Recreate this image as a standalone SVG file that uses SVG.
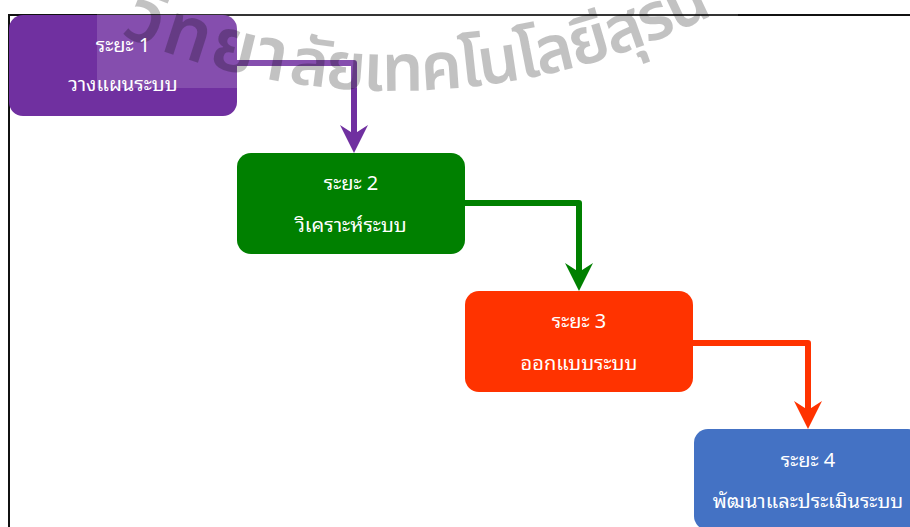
<svg xmlns="http://www.w3.org/2000/svg" width="910" height="527" viewBox="0 0 910 527">
  <style>
    .box { stroke: none; }
    .lbl { font-family: "Noto Sans Thai Looped", "Noto Sans Thai", "Noto Sans", "DejaVu Sans", sans-serif; font-size: 20px; fill: #ffffff; text-anchor: middle; }
    .wire { fill: none; stroke-width: 6; stroke-linejoin: round; }
    .frame { stroke: #111111; stroke-width: 2; fill: none; }
    .mark { font-family: "Noto Sans Thai", "Noto Sans", "DejaVu Sans", sans-serif; font-weight: 600; font-size: 66px; fill: #000000; fill-opacity: 0.24; }
    .big { font-size: 74px; }
    .tight { letter-spacing: -2px; }
  </style>
  <defs>
    <marker id="headPurple" viewBox="0 0 28 28" refX="13" refY="14" markerWidth="28" markerHeight="28" markerUnits="userSpaceOnUse" orient="auto">
      <path d="M0,0 L28,14 L0,28 L9,14 z" fill="#7030A0"/>
    </marker>
    <marker id="headGreen" viewBox="0 0 28 28" refX="13" refY="14" markerWidth="28" markerHeight="28" markerUnits="userSpaceOnUse" orient="auto">
      <path d="M0,0 L28,14 L0,28 L9,14 z" fill="#008000"/>
    </marker>
    <marker id="headRed" viewBox="0 0 28 28" refX="13" refY="14" markerWidth="28" markerHeight="28" markerUnits="userSpaceOnUse" orient="auto">
      <path d="M0,0 L28,14 L0,28 L9,14 z" fill="#FF3300"/>
    </marker>
    <path id="sealArc" d="M40,-6 A700,700 0 0,0 760,-11.7"/>
  </defs>

  <rect width="910" height="527" fill="#ffffff"/>

  <!-- page frame -->
  <path class="frame" d="M9,527 V15 H910"/>

  <!-- phase boxes -->
  <g id="phase1">
    <rect class="box" x="9" y="15" width="228" height="101" rx="14" fill="#7030A0"/>
  </g>
  <g id="phase2">
    <rect class="box" x="237" y="153" width="228" height="101" rx="14" fill="#008000"/>
  </g>
  <g id="phase3">
    <rect class="box" x="465" y="291" width="228" height="101" rx="14" fill="#FF3300"/>
  </g>
  <g id="phase4">
    <rect class="box" x="694" y="429" width="228" height="101" rx="14" fill="#4472C4"/>
  </g>

  <!-- connectors -->
  <g id="connectors">
    <path class="wire" stroke="#7030A0" d="M237,63 H354 V138" marker-end="url(#headPurple)"/>
    <path class="wire" stroke="#008000" d="M465,203 H579 V276" marker-end="url(#headGreen)"/>
    <path class="wire" stroke="#FF3300" d="M693,343 H808 V414" marker-end="url(#headRed)"/>
  </g>

  <!-- college seal watermark -->
  <g id="watermark">
    <rect x="97" y="0" width="641" height="88" fill="#ffffff" fill-opacity="0.15"/>
    <text class="mark"><textPath href="#sealArc" startOffset="90"><tspan class="big">วิ</tspan><tspan class="big" dx="4">ท</tspan><tspan class="big" dx="4">ย</tspan><tspan class="big" dx="2">า</tspan><tspan dx="4" class="tight">ลัยเทคโนโลยีสุรน</tspan></textPath></text>
  </g>

  <!-- labels -->
  <g id="phase1-label">
    <text class="lbl" x="123" y="52">ระยะ 1</text>
    <text class="lbl" x="123" y="91">วางแผนระบบ</text>
  </g>
  <g id="phase2-label">
    <text class="lbl" x="351" y="190">ระยะ 2</text>
    <text class="lbl" x="351" y="232">วิเคราะห์ระบบ</text>
  </g>
  <g id="phase3-label">
    <text class="lbl" x="579" y="328">ระยะ 3</text>
    <text class="lbl" x="579" y="370">ออกแบบระบบ</text>
  </g>
  <g id="phase4-label">
    <text class="lbl" x="808" y="467">ระยะ 4</text>
    <text class="lbl" x="808" y="508">พัฒนาและประเมินระบบ</text>
  </g>
</svg>
